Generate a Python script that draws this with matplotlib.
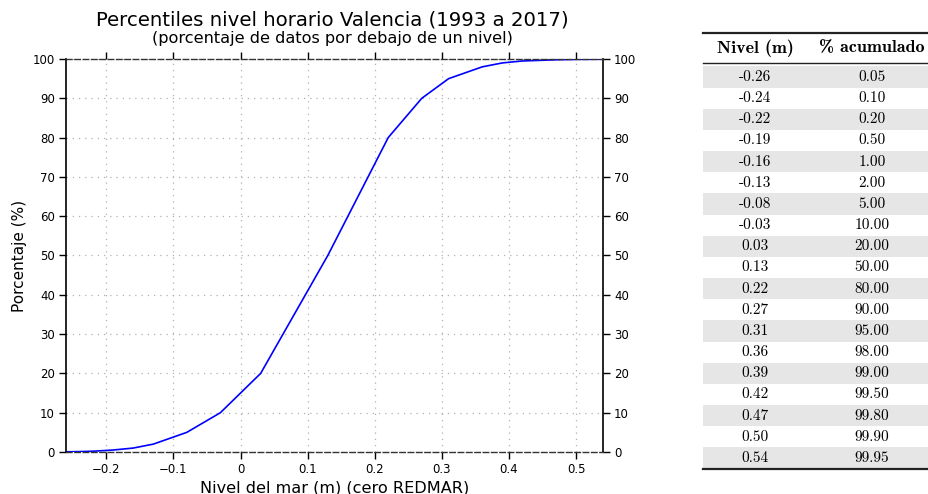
import matplotlib
matplotlib.use("Agg")
import matplotlib.pyplot as plt
from matplotlib.patches import Rectangle
from matplotlib.lines import Line2D

# Datos (tabla de percentiles)
niveles = [-0.26, -0.24, -0.22, -0.19, -0.16, -0.13, -0.08, -0.03, 0.03, 0.13,
           0.22, 0.27, 0.31, 0.36, 0.39, 0.42, 0.47, 0.50, 0.54]
porcentajes = [0.05, 0.10, 0.20, 0.50, 1.00, 2.00, 5.00, 10.00, 20.00, 50.00,
               80.00, 90.00, 95.00, 98.00, 99.00, 99.50, 99.80, 99.90, 99.95]
x_ticks = [-0.2, -0.1, 0, 0.1, 0.2, 0.3, 0.4, 0.5]
x_tick_labels = ['\u22120.2', '\u22120.1', '0', '0.1', '0.2', '0.3', '0.4', '0.5']
y_ticks = list(range(0, 101, 10))
cabecera = ['Nivel (m)', '% acumulado']

W, H = 929, 494
fig = plt.figure(figsize=(W / 100, H / 100), dpi=100)

# Eje principal
ax = fig.add_axes([66 / W, 1 - 452 / H, (603 - 66) / W, (452 - 59) / H])
ax.plot(niveles, porcentajes, color='#0000ff', lw=1.2)
ax.set_xlim(-0.26, 0.54)
ax.set_ylim(0, 100)
ax.set_xticks(x_ticks)
ax.set_xticklabels(x_tick_labels)
ax.set_yticks(y_ticks)
ax.tick_params(direction='out', length=5, width=1, labelsize=8.5,
               top=True, right=True, labelright=True, pad=3)
ax.grid(True, color='#b0b0b0', linestyle=(0, (1, 4)), lw=0.9)
for lado in ['top', 'bottom']:
    ax.spines[lado].set_linestyle((0, (4, 2)))
    ax.spines[lado].set_color('#333333')
    ax.spines[lado].set_linewidth(1.0)
for lado in ['left', 'right']:
    ax.spines[lado].set_linewidth(1.2)

ax.set_xlabel('Nivel del mar (m) (cero REDMAR)', fontsize=11.6, labelpad=3)
ax.set_ylabel('Porcentaje (%)', fontsize=11, labelpad=4)

fig.text(332 / W, 1 - 20 / H, 'Percentiles nivel horario Valencia (1993 a 2017)',
         ha='center', va='center', fontsize=14.2)
fig.text(332 / W, 1 - 38 / H, '(porcentaje de datos por debajo de un nivel)',
         ha='center', va='center', fontsize=11.6)

# Tabla
def px(x, y):
    return x / W, 1 - y / H

x0, x1 = 703, 940
fila_h = (458 - 77) / 18
y_primera = 77
col1, col2 = 755, 872

for i in range(len(niveles)):
    yc = y_primera + i * fila_h
    if i % 2 == 0:
        fig.add_artist(Rectangle(px(x0, yc + fila_h / 2), (x1 - x0) / W, fila_h / H,
                                 transform=fig.transFigure, facecolor='#e6e6e6',
                                 edgecolor='none', zorder=0))
    fig.text(*px(col1, yc), f'{niveles[i]:.2f}', ha='center', va='center',
             fontsize=11, family='cmr10')
    fig.text(*px(col2, yc), f'{porcentajes[i]:.2f}', ha='center', va='center',
             fontsize=11, family='cmr10')

fig.text(*px(col1, 48), cabecera[0], ha='center', va='center', fontsize=13,
         family='cmb10')
fig.text(*px(col2, 48), cabecera[1], ha='center', va='center', fontsize=13,
         family='cmb10')

for yr, lw in [(33, 1.6), (63, 1.0), (y_primera + 18 * fila_h + fila_h / 2 + 0.5, 1.6)]:
    fig.add_artist(Line2D([x0 / W, x1 / W], [1 - yr / H, 1 - yr / H],
                          transform=fig.transFigure, color='#222222', lw=lw))

fig.savefig('out.png', dpi=100)
